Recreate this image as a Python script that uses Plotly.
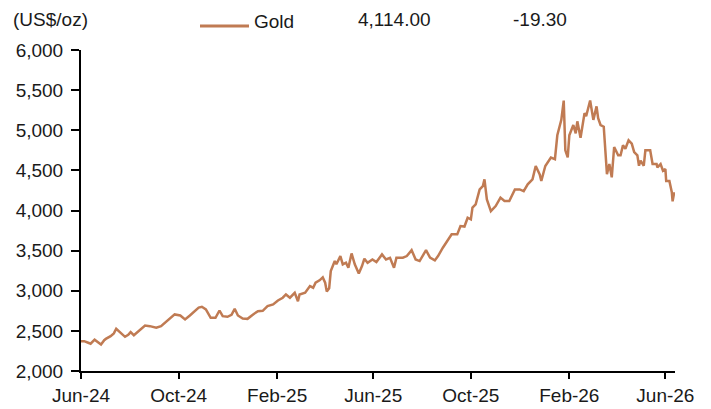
import plotly.graph_objects as go

# Gold spot price, US$/oz
dates = [
    "2024-06-01", "2024-06-05", "2024-06-10", "2024-06-13", "2024-06-18", "2024-06-22",
    "2024-06-26", "2024-06-30", "2024-07-02", "2024-07-08", "2024-07-12", "2024-07-15",
    "2024-07-20", "2024-07-26", "2024-07-30", "2024-08-02", "2024-08-06", "2024-08-10",
    "2024-08-14", "2024-08-20", "2024-08-26", "2024-08-30", "2024-09-03", "2024-09-09",
    "2024-09-15", "2024-09-20", "2024-09-26", "2024-10-03", "2024-10-09", "2024-10-15",
    "2024-10-21", "2024-10-26", "2024-10-30", "2024-11-04", "2024-11-10", "2024-11-16",
    "2024-11-21", "2024-11-25", "2024-12-01", "2024-12-06", "2024-12-10", "2024-12-14",
    "2024-12-20", "2024-12-26", "2025-01-02", "2025-01-08", "2025-01-14", "2025-01-20",
    "2025-01-27", "2025-02-02", "2025-02-08", "2025-02-12", "2025-02-17", "2025-02-23",
    "2025-02-27", "2025-03-01", "2025-03-08", "2025-03-14", "2025-03-18", "2025-03-21",
    "2025-03-26", "2025-03-30", "2025-04-02", "2025-04-04", "2025-04-07", "2025-04-09",
    "2025-04-14", "2025-04-16", "2025-04-21", "2025-04-24", "2025-04-28", "2025-05-01",
    "2025-05-05", "2025-05-09", "2025-05-14", "2025-05-18", "2025-05-21", "2025-05-25",
    "2025-05-31", "2025-06-05", "2025-06-12", "2025-06-17", "2025-06-22", "2025-06-27",
    "2025-06-30", "2025-07-08", "2025-07-13", "2025-07-19", "2025-07-24", "2025-07-29",
    "2025-08-06", "2025-08-11", "2025-08-17", "2025-08-21", "2025-08-27", "2025-09-01",
    "2025-09-07", "2025-09-14", "2025-09-18", "2025-09-23", "2025-09-27", "2025-10-01",
    "2025-10-03", "2025-10-07", "2025-10-12", "2025-10-16", "2025-10-18", "2025-10-21",
    "2025-10-26", "2025-11-01", "2025-11-07", "2025-11-12", "2025-11-18", "2025-11-25",
    "2025-12-01", "2025-12-06", "2025-12-11", "2025-12-17", "2025-12-21", "2025-12-26",
    "2025-12-28", "2026-01-02", "2026-01-09", "2026-01-14", "2026-01-17", "2026-01-22",
    "2026-01-25", "2026-01-27", "2026-01-30", "2026-02-01", "2026-02-06", "2026-02-09",
    "2026-02-11", "2026-02-15", "2026-02-20", "2026-02-22", "2026-02-27", "2026-03-03",
    "2026-03-07", "2026-03-09", "2026-03-12", "2026-03-16", "2026-03-20", "2026-03-23",
    "2026-03-26", "2026-03-29", "2026-04-03", "2026-04-06", "2026-04-09", "2026-04-12",
    "2026-04-16", "2026-04-20", "2026-04-23", "2026-04-27", "2026-04-29", "2026-05-01",
    "2026-05-05", "2026-05-07", "2026-05-13", "2026-05-16", "2026-05-21", "2026-05-22",
    "2026-05-26", "2026-05-29", "2026-06-01", "2026-06-02", "2026-06-06", "2026-06-09",
    "2026-06-10", "2026-06-12",
]
gold = [
    2370, 2372, 2352, 2340, 2390, 2359,
    2330, 2384, 2400, 2434, 2468, 2526,
    2484, 2426, 2450, 2484, 2446, 2480,
    2509, 2567, 2559, 2550, 2539, 2559,
    2609, 2650, 2705, 2692, 2642, 2692,
    2746, 2790, 2800, 2767, 2663, 2663,
    2754, 2683, 2675, 2700, 2775, 2692,
    2655, 2650, 2705, 2746, 2750, 2808,
    2829, 2879, 2913, 2954, 2913, 2975,
    2870, 2954, 2975, 3058, 3038, 3100,
    3130, 3166, 3100, 2990, 3030, 3245,
    3370, 3330, 3432, 3328, 3349, 3287,
    3465, 3330, 3216, 3307, 3399, 3349,
    3390, 3357, 3453, 3390, 3410, 3287,
    3410, 3412, 3432, 3506, 3390, 3370,
    3506, 3412, 3378, 3432, 3536, 3619,
    3703, 3703, 3806, 3800, 3910, 3890,
    4035, 4076, 4263, 4305, 4388, 4138,
    3993, 4055, 4160, 4118, 4118, 4263,
    4263, 4242, 4326, 4388, 4554, 4450,
    4367, 4554, 4659, 4640, 4937, 5130,
    5370, 4750, 4662, 4937, 5065, 4961,
    5111, 4906, 5214, 5174, 5370, 5129,
    5298, 5149, 5065, 5044, 4453, 4579,
    4413, 4791, 4687, 4687, 4812, 4770,
    4874, 4833, 4727, 4687, 4558, 4621,
    4558, 4750, 4750, 4579, 4579, 4537,
    4579, 4495, 4516, 4368, 4368, 4228,
    4114, 4228,
]

tick_dates = ["2024-06-01", "2024-10-01", "2025-02-01", "2025-06-01",
              "2025-10-01", "2026-02-01", "2026-06-01"]
tick_labels = ["Jun-24", "Oct-24", "Feb-25", "Jun-25", "Oct-25", "Feb-26", "Jun-26"]
y_ticks = [2000, 2500, 3000, 3500, 4000, 4500, 5000, 5500, 6000]

legend_name = "Gold"
legend_last = "4,114.00"
legend_chg = "-19.30"

_LINE = "#C07B53"
_TEXT = "#1a1a1a"
_FONT = "Liberation Sans, Arial, sans-serif"
_SIZE = 19

W, H = 711, 409
ML, MR, MT, MB = 81, 36, 50, 38
PW, PH = W - ML - MR, H - MT - MB


def _px(x):
    return (x - ML) / PW


def _py(y):
    return 1 + (MT - y) / PH


fig = go.Figure(
    go.Scatter(
        x=dates, y=gold,
        mode="lines",
        name=legend_name,
        line=dict(color=_LINE, width=2.5),
        showlegend=False,
    )
)

_axis = dict(
    showgrid=False, zeroline=False,
    showline=True, linecolor="#000000", linewidth=2,
    ticks="outside", tickcolor="#000000", tickwidth=2,
    tickfont=dict(family=_FONT, size=_SIZE, color=_TEXT),
)

fig.update_layout(
    width=W, height=H,
    margin=dict(l=ML, r=MR, t=MT, b=MB),
    paper_bgcolor="#ffffff",
    plot_bgcolor="#ffffff",
    template="none",
    font=dict(family=_FONT, size=_SIZE, color=_TEXT),
    xaxis=dict(
        type="date",
        range=["2024-06-01", "2026-06-13"],
        tickvals=tick_dates, ticktext=tick_labels,
        ticklen=6,
        **_axis,
    ),
    yaxis=dict(
        range=[2000, 6000],
        tickvals=y_ticks,
        tickformat=",d",
        ticklen=8,
        ticklabelstandoff=4,
        **_axis,
    ),
    shapes=[
        dict(type="line", xref="paper", yref="paper",
             x0=_px(200), x1=_px(249), y0=_py(26), y1=_py(26),
             line=dict(color=_LINE, width=3)),
    ],
    annotations=[
        dict(text=t, xref="paper", yref="paper", x=_px(x0), y=_py(y0),
             xanchor="left", yanchor="middle", showarrow=False,
             font=dict(size=_SIZE))
        for t, x0, y0 in [
            ("(US$/oz)", 11, 19),
            (legend_name, 252, 22),
            (legend_last, 356, 19),
            (legend_chg, 511, 19),
        ]
    ],
)

fig.write_html(
    "out.html",
    config={"displayModeBar": False},
    post_script="document.body.style.margin='0';",
)
